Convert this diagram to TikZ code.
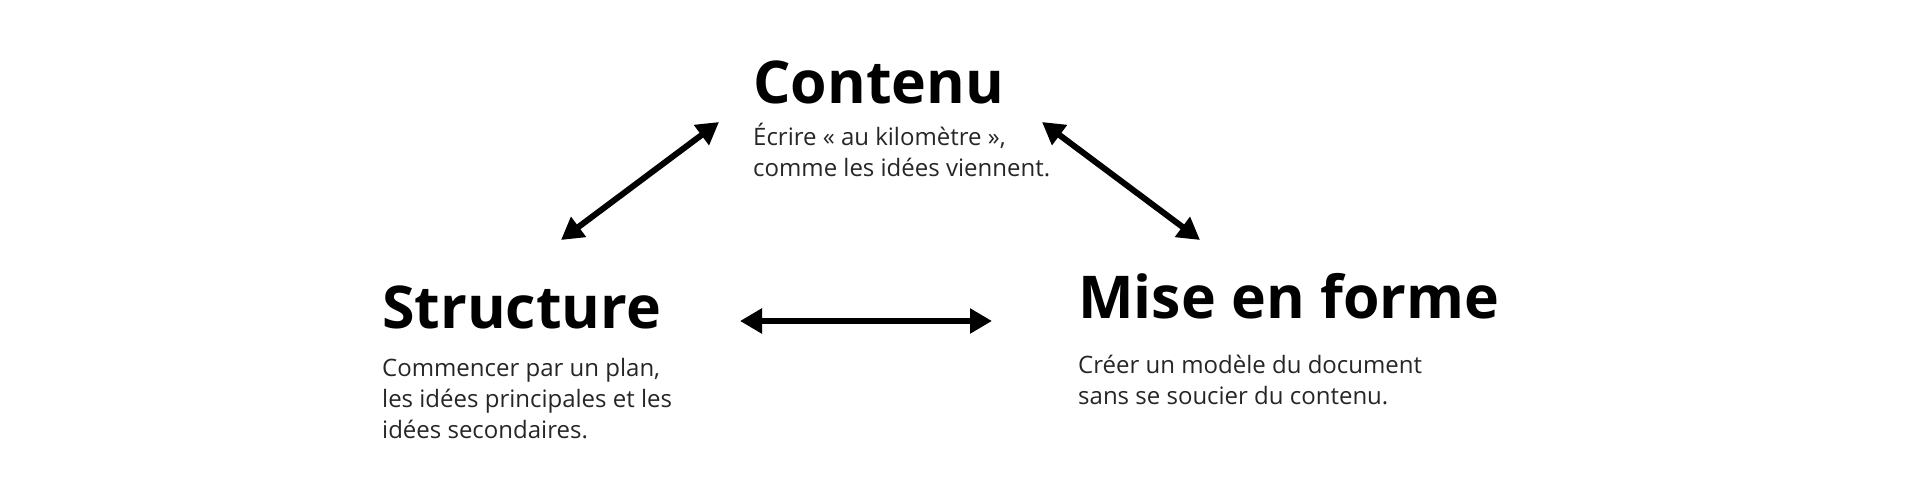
\documentclass[tikz,border=0pt]{standalone}
\usepackage{fontspec}
\setmainfont{Open Sans}
\usetikzlibrary{arrows.meta}
\begin{document}
\begin{tikzpicture}[x=1pt,y=-1pt,
  title/.style={anchor=base west,inner sep=0pt,font=\fontsize{59}{70}\selectfont\bfseries},
  body/.style={anchor=base west,inner sep=0pt,font=\fontsize{24}{31}\selectfont,text=black!85},
  link/.style={line width=6pt,{Triangle[length=22pt,width=24pt]}-{Triangle[length=22pt,width=24pt]}}]
\useasboundingbox (0,0) rectangle (1920,500);
\node[title] (contenu) at (753,104) {Contenu};
\node[body] (contenutxt) at (753,146) {\begin{tabular}[t]{@{}l@{}}Écrire « au kilomètre »,\\comme les idées viennent.\end{tabular}};
\node[title] (structure) at (382,328) {Structure};
\node[body] (structuretxt) at (382,376) {\begin{tabular}[t]{@{}l@{}}Commencer par un plan,\\les idées principales et les\\idées secondaires.\end{tabular}};
\node[title] (mise) at (1078,318) {Mise en forme};
\node[body] (misetxt) at (1078,373) {\begin{tabular}[t]{@{}l@{}}Créer un modèle du document\\sans se soucier du contenu.\end{tabular}};
\coordinate (a1) at (561,240);
\coordinate (a2) at (719,122);
\coordinate (b1) at (1042,122);
\coordinate (b2) at (1200,240);
\coordinate (c1) at (740,321);
\coordinate (c2) at (992,321);
\draw[link] (a1) -- (a2);
\draw[link] (b1) -- (b2);
\draw[link] (c1) -- (c2);
\end{tikzpicture}
\end{document}
